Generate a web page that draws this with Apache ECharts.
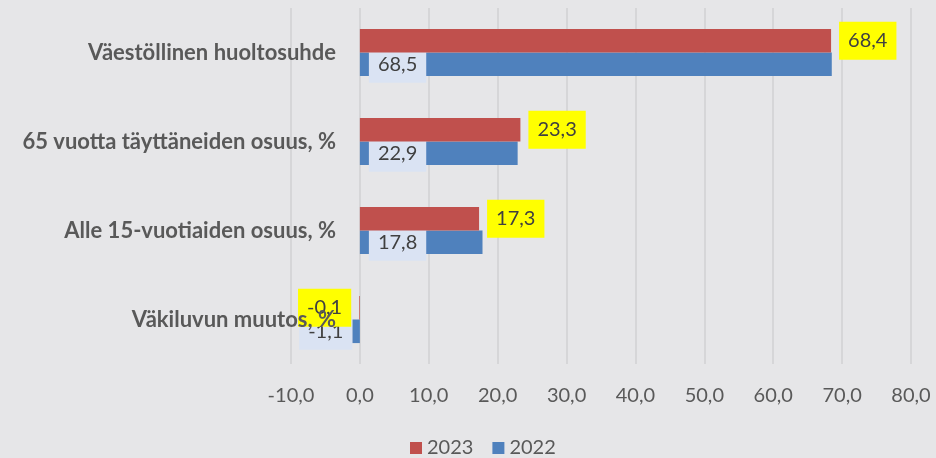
<!DOCTYPE html>
<html>
<head>
<meta charset="utf-8">
<script src="https://cdn.jsdelivr.net/npm/echarts@6/dist/echarts.min.js"></script>
<style>
  html, body { margin: 0; padding: 0; background: #E6E6E8; }
  #chart { width: 936px; height: 458px; }
</style>
</head>
<body>
<div id="chart"></div>
<script>
// Categories top to bottom
const categories = [
    'Väestöllinen huoltosuhde',
    '65 vuotta täyttäneiden osuus, %',
    'Alle 15-vuotiaiden osuus, %',
    'Väkiluvun muutos, %'
];
const values2023 = [68.4, 23.3, 17.3, -0.1];
const values2022 = [68.5, 22.9, 17.8, -1.1];
const axisMin = -10;
const axisMax = 80;
const axisStep = 10;

// Finnish style decimals
const fmt = v => v.toFixed(1).replace('.', ',');

const labelFont = {
    fontFamily: 'Lato',
    fontSize: 20,
    color: '#404040',
    lineHeight: 21
};

const myChart = echarts.init(document.getElementById('chart'));

const option = {
    backgroundColor: '#E6E6E8',
    animation: false,
    textStyle: { fontFamily: 'Lato' },
    grid: {
        left: 291,
        right: 25,
        top: 8,
        bottom: 94,
        outerBoundsMode: 'none'
    },
    legend: {
        data: ['2023', '2022'],
        left: 405,
        top: 433,
        icon: 'rect',
        itemWidth: 12,
        itemHeight: 12,
        itemGap: 19,
        textStyle: { fontFamily: 'Lato', fontSize: 20, color: '#595959' }
    },
    xAxis: {
        type: 'value',
        min: axisMin,
        max: axisMax,
        interval: axisStep,
        axisLine: { show: false },
        axisTick: { show: false },
        axisLabel: {
            formatter: v => fmt(v),
            fontFamily: 'Lato',
            fontSize: 20,
            color: '#595959',
            margin: 22
        },
        splitLine: { lineStyle: { color: '#D6D6D8', width: 2 } }
    },
    yAxis: {
        type: 'category',
        inverse: true,
        data: categories,
        z: 10,
        axisLine: { show: false },
        axisTick: { show: false },
        axisLabel: {
            fontFamily: 'Lato',
            fontWeight: 'bold',
            fontSize: 22,
            color: '#595959',
            // labels end next to the zero line, as in the original
            margin: -45
        }
    },
    series: [
        {
            name: '2023',
            type: 'bar',
            z: 4,
            barGap: '0%',
            barCategoryGap: '47%',
            itemStyle: { color: '#C0504D' },
            label: Object.assign({
                show: true,
                position: 'right',
                distance: 8,
                backgroundColor: '#FFFF00',
                padding: [8, 9, 9, 9],
                formatter: p => fmt(p.value)
            }, labelFont),
            data: values2023.map(v => v < 0
                ? { value: v, label: { position: 'left', distance: 8 } }
                : v)
        },
        {
            name: '2022',
            type: 'bar',
            z: 3,
            barGap: '0%',
            barCategoryGap: '47%',
            itemStyle: { color: '#4F81BD' },
            label: Object.assign({
                show: true,
                position: 'insideLeft',
                distance: 9,
                backgroundColor: '#DAE3F3',
                padding: [8, 9, 8, 9],
                formatter: p => fmt(p.value)
            }, labelFont),
            data: values2022.map(v => v < 0
                ? { value: v, label: { position: 'left', distance: 0 } }
                : v)
        }
    ]
};

myChart.setOption(option);
</script>
</body>
</html>
